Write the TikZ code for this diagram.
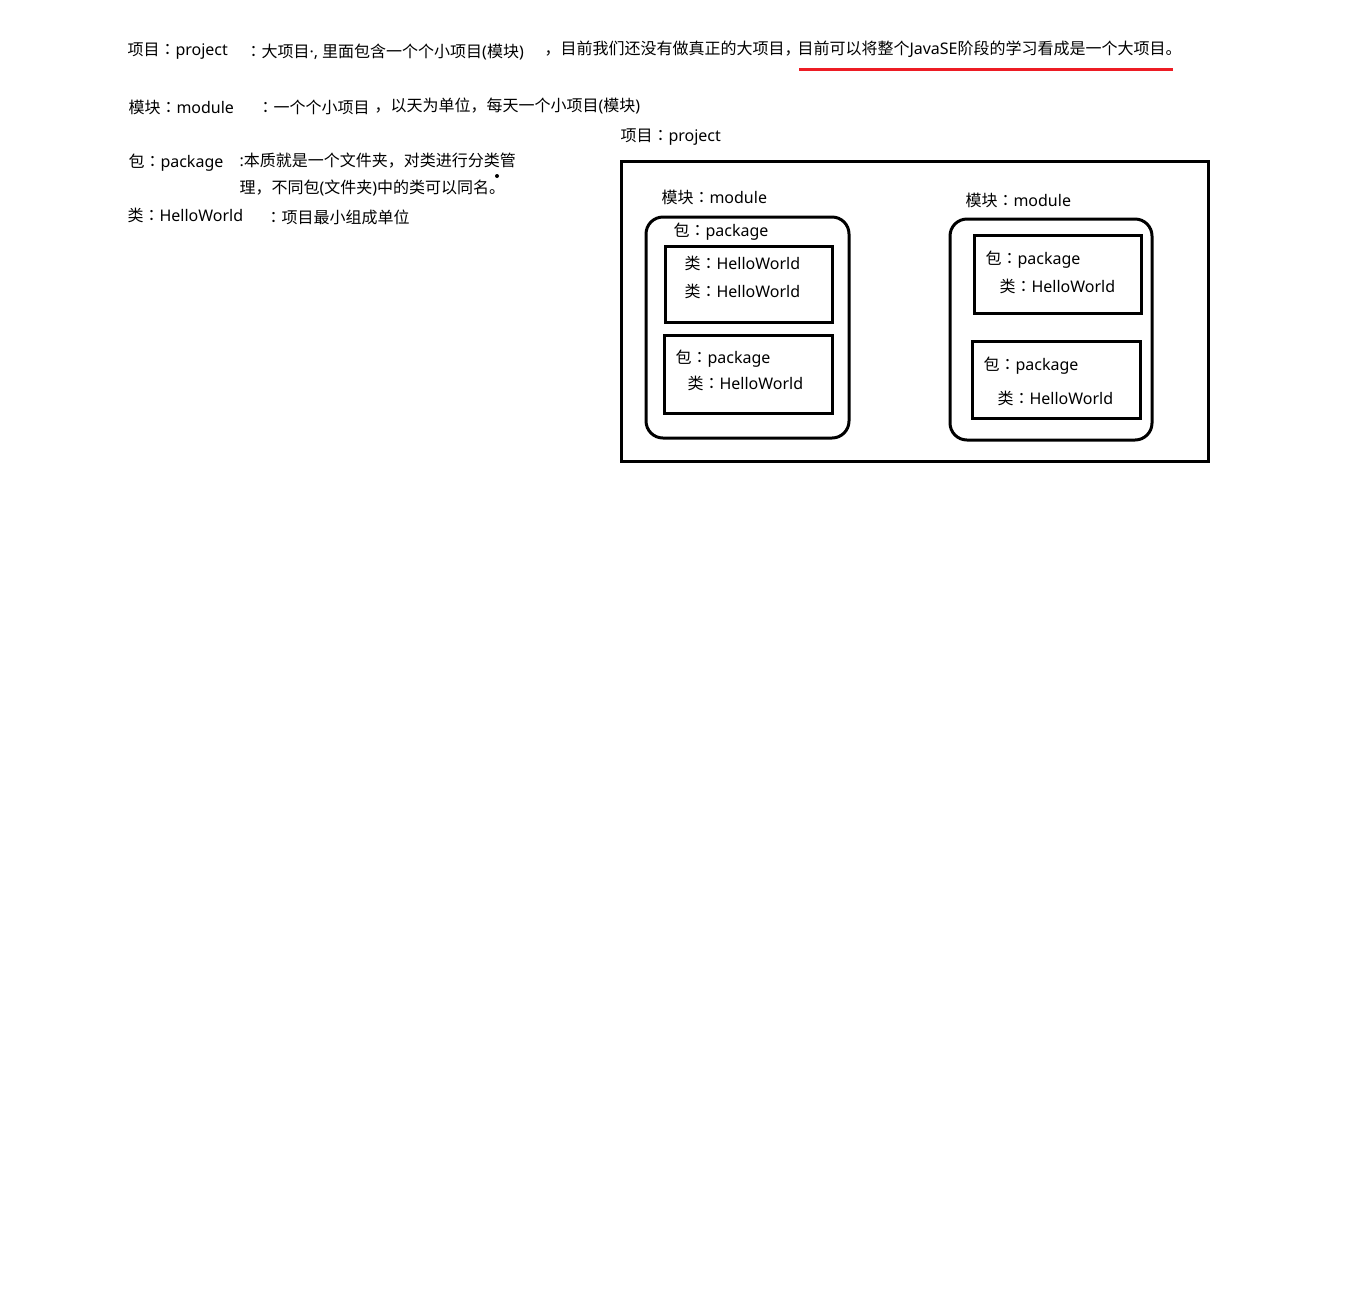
\documentclass[tikz,border=0pt]{standalone}
\usepackage{fontspec}
\setmainfont{Noto Sans}
\newfontfamily\cjk{Noto Sans CJK SC}
\newfontfamily\cjkpunct{Noto Sans CJK TC}
\newcommand{\zh}[1]{{\cjk #1}}
\newcommand{\colonzh}{{\cjkpunct ：}}
\newcommand{\term}[2]{\zh{#1}\colonzh#2}

\tikzset{every picture/.style={line width=0.75pt}}
\tikzset{
  txt/.style={anchor=base west, inner sep=0pt, font=\fontsize{12}{14}\selectfont},
  frame/.style={line width=2.25pt},
  modbox/.style={line width=2.25pt, rounded corners=12.75pt},
}

\begin{document}
\begin{tikzpicture}[x=0.75pt,y=0.75pt,yscale=-1,xscale=1]
\path[use as bounding box] (0,0) rectangle (1348,1300);

% Text Node
\node [txt] (projTerm) at (127,55) {\term{项目}{project}};
% Text Node
\node [txt] (projDesc) at (245,57) {\colonzh\zh{大项目}·, \zh{里面包含一个个小项目}(\zh{模块})};
% Text Node
\node [txt] (projNote) at (544,54) {\zh{，目前我们还没有做真正的大项目，}};
% Text Node
\node [txt] (projMark) at (797,54) {\zh{目前可以将整个}JavaSE\zh{阶段的学习看成是一个大项目。}};
%Straight Lines
\draw [line width=2.25pt, color={rgb, 255:red, 237; green, 28; blue, 36 }] (799,69) -- (1173,69) ;

% Text Node
\node [txt] (modTerm) at (128,113) {\term{模块}{module}};
% Text Node
\node [txt] (modDesc) at (257,113) {\colonzh\zh{一个个小项目}};
% Text Node
\node [txt] (modNote) at (374,111) {\zh{，以天为单位，每天一个小项目}(\zh{模块})};

% Text Node
\node [txt] (pkgTerm) at (128,167) {\term{包}{package}};
% Text Node
\node [txt] (pkgDesc) at (239,166) {:\zh{本质就是一个文件夹，对类进行分类管}};
% Text Node
\node [txt] (pkgDescB) at (239,193) {\zh{理，不同包}(\zh{文件夹})\zh{中的类可以同名。}};
%Shape: Circle
\fill (497,176) circle [radius=2] ;

% Text Node
\node [txt] (clsTerm) at (127,221) {\term{类}{HelloWorld}};
% Text Node
\node [txt] (clsDesc) at (265,223) {\colonzh\zh{项目最小组成单位}};

% Text Node
\node [txt] (project) at (620,141) {\term{项目}{project}};
%Shape: Rectangle
\draw [frame] (621,161) rectangle (1208,461) ;

%Shape: Rounded Rect
\draw [modbox] (646,217) rectangle (849,438) ;
% Text Node
\node [txt] (modA) at (661,203) {\term{模块}{module}};
% Text Node
\node [txt] (pkgA) at (673,236) {\term{包}{package}};
%Shape: Rectangle
\draw [frame] (665,246) rectangle (832,322) ;
% Text Node
\node [txt] (clsA) at (684,269) {\term{类}{HelloWorld}};
% Text Node
\node [txt] (clsB) at (684,297) {\term{类}{HelloWorld}};
%Shape: Rectangle
\draw [frame] (664,335) rectangle (832,413) ;
% Text Node
\node [txt] (pkgB) at (675,363) {\term{包}{package}};
% Text Node
\node [txt] (clsC) at (687,389) {\term{类}{HelloWorld}};

%Shape: Rounded Rect
\draw [modbox] (950,219) rectangle (1152,440) ;
% Text Node
\node [txt] (modB) at (965,206) {\term{模块}{module}};
%Shape: Rectangle
\draw [frame] (974,235) rectangle (1141,313) ;
% Text Node
\node [txt] (pkgC) at (985,264) {\term{包}{package}};
% Text Node
\node [txt] (clsD) at (999,292) {\term{类}{HelloWorld}};
%Shape: Rectangle
\draw [frame] (972,341) rectangle (1140,418) ;
% Text Node
\node [txt] (pkgD) at (983,370) {\term{包}{package}};
% Text Node
\node [txt] (clsE) at (997,404) {\term{类}{HelloWorld}};

\end{tikzpicture}
\end{document}
